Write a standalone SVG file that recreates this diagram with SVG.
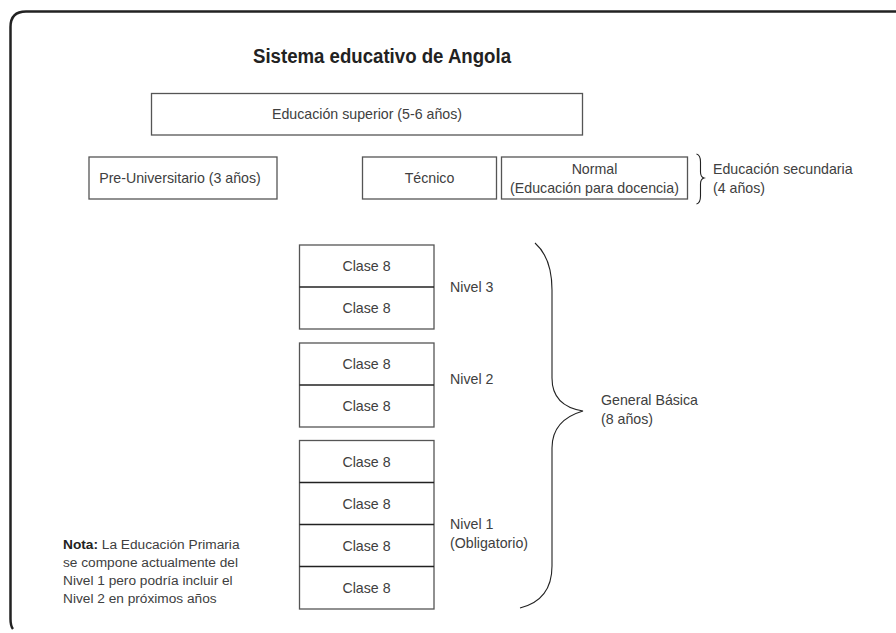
<svg xmlns="http://www.w3.org/2000/svg" width="896" height="633" viewBox="0 0 896 633">
<style>
.t{font-family:"Liberation Sans",Arial,sans-serif;font-size:14.2px;fill:#404040}
.c{text-anchor:middle}
.box{fill:#fff;stroke:#555;stroke-width:1.3}
.div{stroke:#222;stroke-width:1.3}
.brace{fill:none;stroke:#222;stroke-width:1.1}
.n{font-size:13.7px}
</style>
<rect width="896" height="633" fill="#fff"/>
<path d="M896 11.5 H26 Q10.5 11.5 10.5 27 V619 Q10.5 626 13 629" fill="none" stroke="#222" stroke-width="2.5"/>
<text x="253" y="63" font-family="'Liberation Sans Narrow','Liberation Sans',Arial,sans-serif" font-size="19.5" font-weight="bold" fill="#222" textLength="258" lengthAdjust="spacingAndGlyphs">Sistema educativo de Angola</text>

<g id="superior">
<rect class="box" x="151.5" y="93.5" width="431" height="41.5"/>
<text class="t c" x="367" y="119">Educación superior (5-6 años)</text>
</g>
<g id="preuniversitario">
<rect class="box" x="89" y="157" width="188" height="42"/>
<text class="t c" x="180" y="183">Pre-Universitario (3 años)</text>
</g>
<g id="tecnico">
<rect class="box" x="362.5" y="157" width="134" height="42"/>
<text class="t c" x="429.5" y="183">Técnico</text>
</g>
<g id="normal">
<rect class="box" x="501.5" y="157" width="186" height="42"/>
<text class="t c" x="594.5" y="174">Normal</text>
<text class="t c" x="594.5" y="193">(Educación para docencia)</text>
</g>
<g id="secundaria">
<path class="brace" d="M696.5 154 Q700.5 155 700.5 162 V172 Q700.5 177 704 178 Q700.5 179 700.5 184 V196 Q700.5 203 696.5 204"/>
<text class="t" x="713" y="174">Educación secundaria</text>
<text class="t" x="713" y="193">(4 años)</text>
</g>

<g id="nivel3">
<rect class="box" x="299.5" y="245" width="134.5" height="84"/>
<line class="div" x1="299.5" y1="287" x2="434" y2="287"/>
<text class="t c" x="366.5" y="271">Clase 8</text>
<text class="t c" x="366.5" y="313">Clase 8</text>
<text class="t" x="450" y="292">Nivel 3</text>
</g>
<g id="nivel2">
<rect class="box" x="299.5" y="343" width="134.5" height="84"/>
<line class="div" x1="299.5" y1="385" x2="434" y2="385"/>
<text class="t c" x="366.5" y="369">Clase 8</text>
<text class="t c" x="366.5" y="411">Clase 8</text>
<text class="t" x="450" y="384">Nivel 2</text>
</g>
<g id="nivel1">
<rect class="box" x="299.5" y="440.5" width="134.5" height="168.5"/>
<line class="div" x1="299.5" y1="482.5" x2="434" y2="482.5"/>
<line class="div" x1="299.5" y1="524.5" x2="434" y2="524.5"/>
<line class="div" x1="299.5" y1="566.5" x2="434" y2="566.5"/>
<text class="t c" x="366.5" y="467">Clase 8</text>
<text class="t c" x="366.5" y="509">Clase 8</text>
<text class="t c" x="366.5" y="551">Clase 8</text>
<text class="t c" x="366.5" y="593">Clase 8</text>
<text class="t" x="450" y="529">Nivel 1</text>
<text class="t" x="450" y="548">(Obligatorio)</text>
</g>

<g id="general">
<path class="brace" d="M535 243 Q552 258 552 290 V378 Q552 406 583 411 Q552 420 552 448 V566 Q552 600 520 608"/>
<text class="t" x="601" y="405">General Básica</text>
<text class="t" x="601" y="424">(8 años)</text>
</g>

<g id="nota">
<text class="t n" x="63" y="549"><tspan font-family="'Liberation Sans Narrow','Liberation Sans',Arial,sans-serif" font-weight="bold" fill="#222">Nota:</tspan> La Educación Primaria</text>
<text class="t n" x="63" y="567">se compone actualmente del</text>
<text class="t n" x="63" y="585">Nivel 1 pero podría incluir el</text>
<text class="t n" x="63" y="603">Nivel 2 en próximos años</text>
</g>
</svg>
